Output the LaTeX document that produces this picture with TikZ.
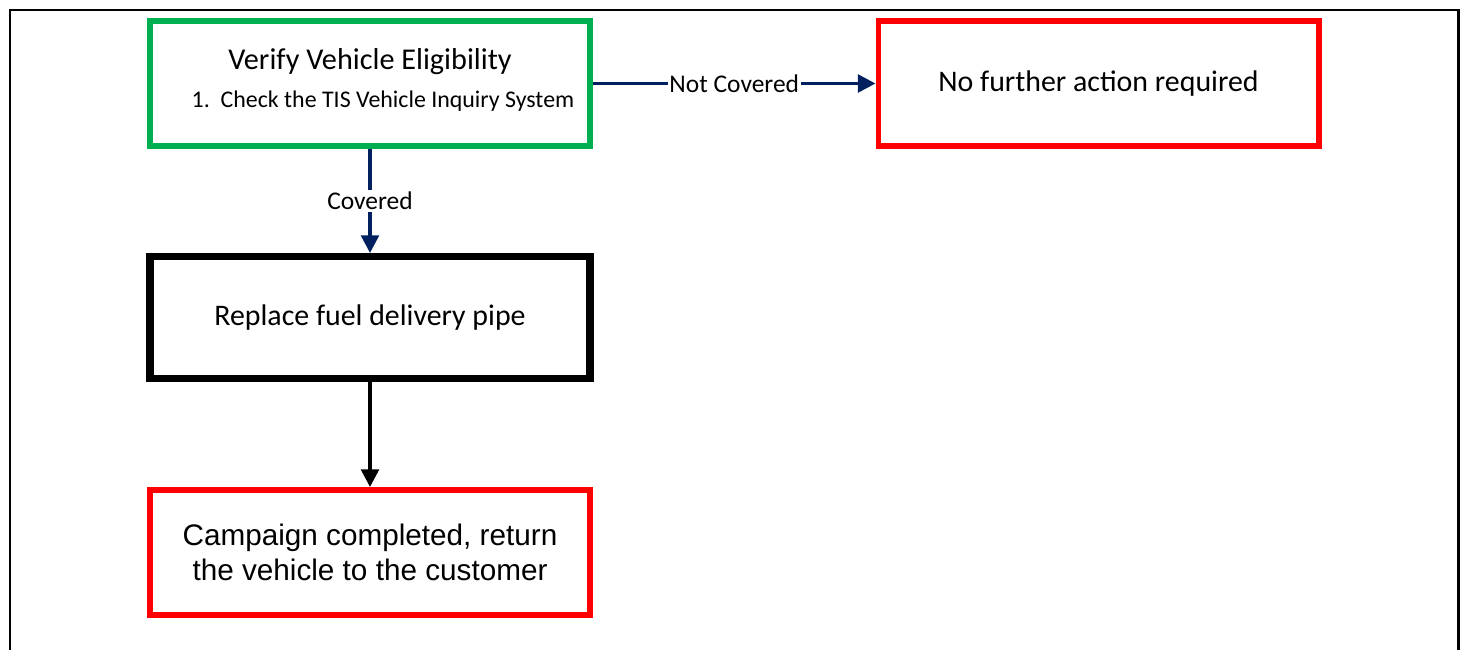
\documentclass[tikz,border=0pt]{standalone}
\usepackage{fontspec}
\setmainfont{Carlito}
\newfontfamily\arialfont{Liberation Sans}
\usepackage{tikz}
\usetikzlibrary{shapes,arrows.meta,positioning,calc}

\definecolor{boxgreen}{HTML}{00B050}
\definecolor{boxred}{HTML}{FF0000}
\definecolor{linknavy}{HTML}{002060}

\begin{document}
\begin{tikzpicture}[
    node distance=4.69cm,
    block/.style={
        rectangle,
        draw,
        fill=white,
        line width=3.4pt,
        minimum width=8.8cm,
        minimum height=2.5cm,
        text centered,
        align=center
    },
    startbox/.style={
        block,
        draw=boxgreen
    },
    endbox/.style={
        block,
        draw=boxred
    },
    workbox/.style={
        block,
        draw=black,
        line width=4pt,
        minimum height=2.44cm
    },
    line/.style={
        draw,
        -{Triangle[length=10pt,width=10pt]},
        line width=2pt
    },
    tag/.style={
        fill=white,
        inner sep=1pt,
        font=\fontsize{14.5}{16}\selectfont
    }
]

% Frame and page size
\useasboundingbox (-7.4,1.67) rectangle (21.82,-11.31);
\draw [line width=1.6pt] (-7.2,-11.4) -- (-7.2,1.47) -- (21.77,1.47) -- (21.77,-11.4);

% Nodes
\node [startbox] (verify) {{\fontsize{17.2}{20}\selectfont Verify Vehicle Eligibility}\\[8.3pt]
    {\fontsize{13.6}{16}\selectfont\hspace*{0.52cm}1.~~Check the TIS Vehicle Inquiry System}\\[-6pt]\mbox{}};
\node [endbox, right of=verify, node distance=14.57cm,
    font=\fontsize{17}{20}\selectfont] (noaction) {No further action required};
\node [workbox, below of=verify, node distance=4.68cm,
    font=\fontsize{17}{20}\selectfont] (replace) {Replace fuel delivery pipe};
\node [endbox, below of=replace, node distance=4.7cm,
    font=\arialfont\fontsize{16.9}{20}\selectfont] (done) {Campaign completed, return\\the vehicle to the customer};

% Edges
\path [line, linknavy] (verify) -- node [tag, text=black] {Not Covered} (noaction);
\path [line, linknavy] (verify) -- node [tag, text=black] {Covered} (replace);
\path [line, black] (replace) -- (done);

\end{tikzpicture}
\end{document}
